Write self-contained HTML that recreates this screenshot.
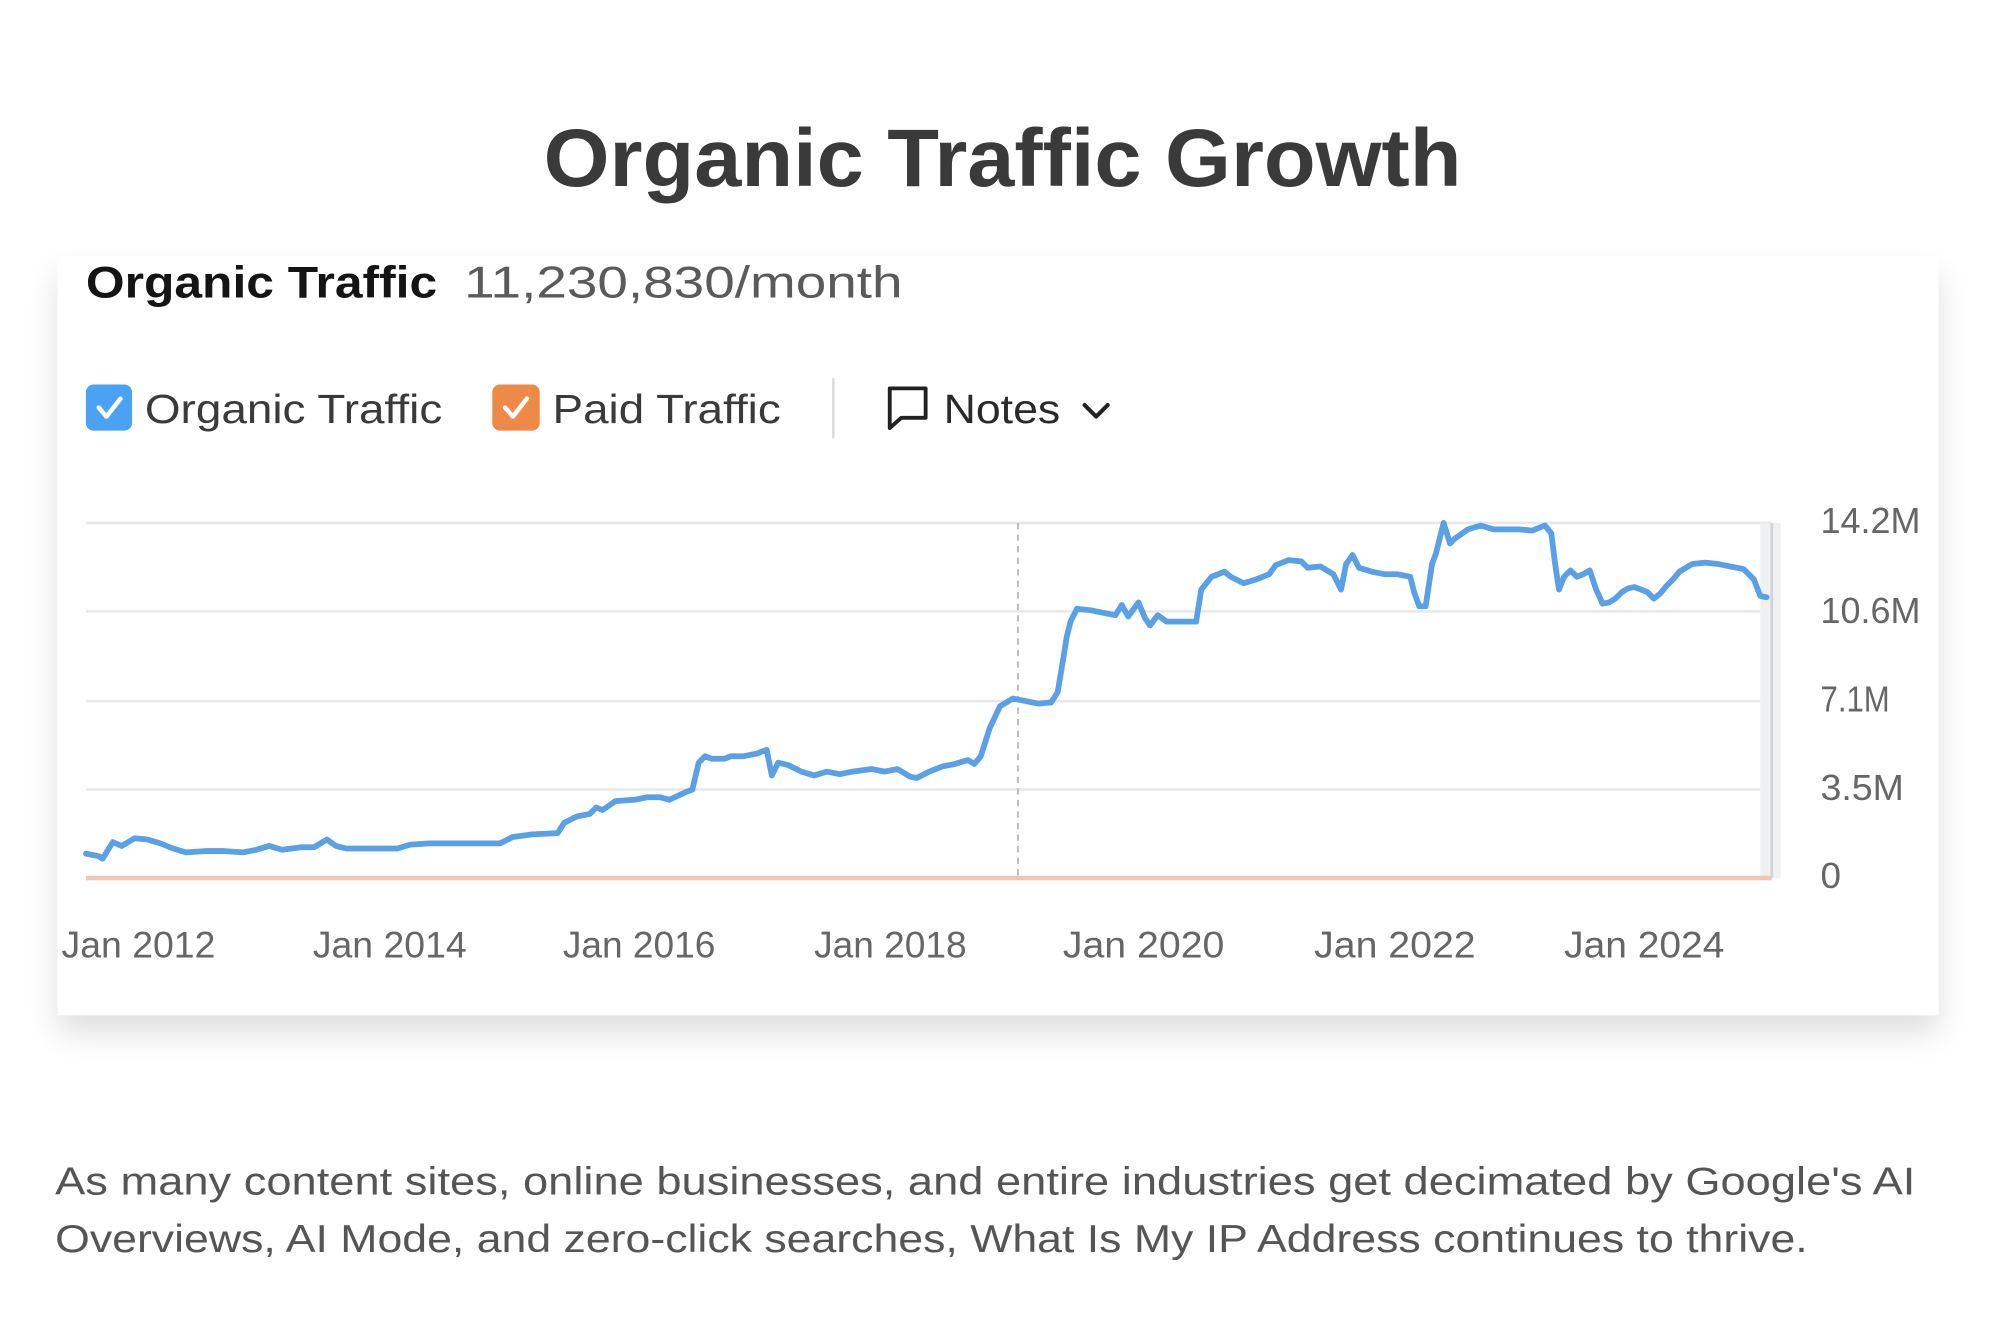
<!DOCTYPE html>
<html><head><meta charset="utf-8"><style>
html,body{margin:0;padding:0;background:#fff;}
svg{display:block;}
text{font-family:"Liberation Sans",Arial,sans-serif;}
</style></head><body>
<svg width="2000" height="1333" viewBox="0 0 1560 1040" preserveAspectRatio="none" xmlns="http://www.w3.org/2000/svg">
<defs>
<filter id="sh" x="-5%" y="-10%" width="110%" height="130%">
<feGaussianBlur in="SourceAlpha" stdDeviation="12"/>
<feOffset dy="14" result="b"/>
<feComponentTransfer><feFuncA type="linear" slope="0.13"/></feComponentTransfer>
<feMerge><feMergeNode/><feMergeNode in="SourceGraphic"/></feMerge>
</filter>
</defs>
<rect width="1560" height="1040" fill="#fff"/>
<text x="424" y="145" font-size="64" font-weight="bold" fill="#3a3a3a" textLength="716" lengthAdjust="spacingAndGlyphs">Organic Traffic Growth</text>

<rect x="45" y="200" width="1467" height="592" fill="#fff" filter="url(#sh)"/>

<text x="67" y="232" font-size="35" font-weight="bold" fill="#141414" textLength="274" lengthAdjust="spacingAndGlyphs">Organic Traffic</text>
<text x="362" y="232" font-size="35" fill="#5a5a5a" textLength="342" lengthAdjust="spacingAndGlyphs">11,230,830/month</text>

<rect x="67" y="300" width="36" height="36" rx="6" fill="#4aa3f2"/>
<path d="M77 318 L83 325 L94 311" stroke="#fff" stroke-width="3.5" fill="none" stroke-linecap="round" stroke-linejoin="round"/>
<text x="113" y="330" font-size="32" fill="#3a3a3a" textLength="232" lengthAdjust="spacingAndGlyphs">Organic Traffic</text>
<rect x="384" y="300" width="37" height="36" rx="6" fill="#ee8a48"/>
<path d="M394 318 L400 325 L411 311" stroke="#fff" stroke-width="3.5" fill="none" stroke-linecap="round" stroke-linejoin="round"/>
<text x="431" y="330" font-size="32" fill="#3a3a3a" textLength="178" lengthAdjust="spacingAndGlyphs">Paid Traffic</text>
<line x1="650" y1="295" x2="650" y2="342" stroke="#ddd" stroke-width="2"/>
<path d="M694 303 H722 V326 H703 L694 334 Z" fill="none" stroke="#222" stroke-width="3" stroke-linejoin="round"/>
<text x="736" y="330" font-size="32" fill="#2a2a2a" textLength="91" lengthAdjust="spacingAndGlyphs">Notes</text>
<path d="M846 316 L855 325 L864 316" fill="none" stroke="#222" stroke-width="3.2" stroke-linecap="round" stroke-linejoin="round"/>

<g stroke="#e8e8e8" stroke-width="2">
<line x1="67" y1="408" x2="1382" y2="408"/>
<line x1="67" y1="477" x2="1382" y2="477"/>
<line x1="67" y1="547" x2="1382" y2="547"/>
<line x1="67" y1="616" x2="1382" y2="616"/>
</g>
<rect x="1373" y="408" width="16" height="277" fill="#eef0f2"/>
<line x1="1382" y1="408" x2="1382" y2="685" stroke="#cfd3d6" stroke-width="2"/>
<line x1="794" y1="408" x2="794" y2="685" stroke="#bdbdbd" stroke-width="1.5" stroke-dasharray="5 4"/>
<line x1="67" y1="685" x2="1382" y2="685" stroke="#efc6b2" stroke-width="3.5"/>

<polyline fill="none" stroke="#5aa0e6" stroke-width="4.5" stroke-linejoin="round" stroke-linecap="round" points="67,666 77,668 80,670 88,657 95,660 105,654 115,655 125,658 135,662 145,665 160,664 175,664 190,665 200,663 210,660 220,663 235,661 245,661 255,655 262,660 270,662 285,662 300,662 310,662 320,659 335,658 350,658 365,658 375,658 390,658 400,653 415,651 435,650 440,642 450,637 460,635 465,630 470,632 480,625 495,624 505,622 515,622 522,624 535,618 540,616 545,595 550,590 555,592 565,592 570,590 580,590 590,588 598,585 602,605 607,595 615,597 625,602 635,605 645,602 655,604 665,602 680,600 690,602 700,600 710,606 715,607 725,602 735,598 745,596 755,593 760,596 765,590 772,568 780,551 790,545 800,547 810,549 820,548 825,540 830,510 832,497 835,485 840,475 850,476 860,478 870,480 875,472 880,481 888,470 893,482 897,488 903,480 910,485 918,485 925,485 933,485 937,460 945,450 955,446 960,450 970,455 980,452 990,448 995,441 1005,437 1015,438 1020,443 1030,442 1040,448 1046,460 1050,440 1055,433 1060,443 1070,446 1080,448 1090,448 1100,450 1103,462 1107,473 1112,473 1117,440 1120,432 1126,408 1131,424 1135,420 1145,413 1155,410 1165,413 1175,413 1185,413 1195,414 1200,412 1205,410 1210,416 1213,440 1216,460 1220,450 1225,445 1230,450 1235,448 1240,445 1245,460 1250,471 1255,470 1260,467 1265,462 1270,459 1275,458 1280,460 1285,462 1290,467 1295,463 1300,457 1305,452 1310,446 1320,440 1330,439 1340,440 1350,442 1360,444 1368,452 1373,465 1378,466"/>

<g font-size="28" fill="#666">
<text x="1420" y="416" textLength="78" lengthAdjust="spacingAndGlyphs">14.2M</text>
<text x="1420" y="486" textLength="78" lengthAdjust="spacingAndGlyphs">10.6M</text>
<text x="1420" y="555" textLength="54" lengthAdjust="spacingAndGlyphs">7.1M</text>
<text x="1420" y="624" textLength="65" lengthAdjust="spacingAndGlyphs">3.5M</text>
<text x="1420" y="693" textLength="16" lengthAdjust="spacingAndGlyphs">0</text>
</g>
<g font-size="29" fill="#666">
<text x="48" y="747" textLength="120" lengthAdjust="spacingAndGlyphs">Jan 2012</text>
<text x="244" y="747" textLength="120" lengthAdjust="spacingAndGlyphs">Jan 2014</text>
<text x="439" y="747" textLength="119" lengthAdjust="spacingAndGlyphs">Jan 2016</text>
<text x="635" y="747" textLength="119" lengthAdjust="spacingAndGlyphs">Jan 2018</text>
<text x="829" y="747" textLength="126" lengthAdjust="spacingAndGlyphs">Jan 2020</text>
<text x="1025" y="747" textLength="126" lengthAdjust="spacingAndGlyphs">Jan 2022</text>
<text x="1220" y="747" textLength="125" lengthAdjust="spacingAndGlyphs">Jan 2024</text>
</g>

<g font-size="30" fill="#555">
<text x="43" y="932" textLength="1451" lengthAdjust="spacingAndGlyphs">As many content sites, online businesses, and entire industries get decimated by Google's AI</text>
<text x="43" y="977" textLength="1367" lengthAdjust="spacingAndGlyphs">Overviews, AI Mode, and zero-click searches, What Is My IP Address continues to thrive.</text>
</g>
</svg>
</body></html>
